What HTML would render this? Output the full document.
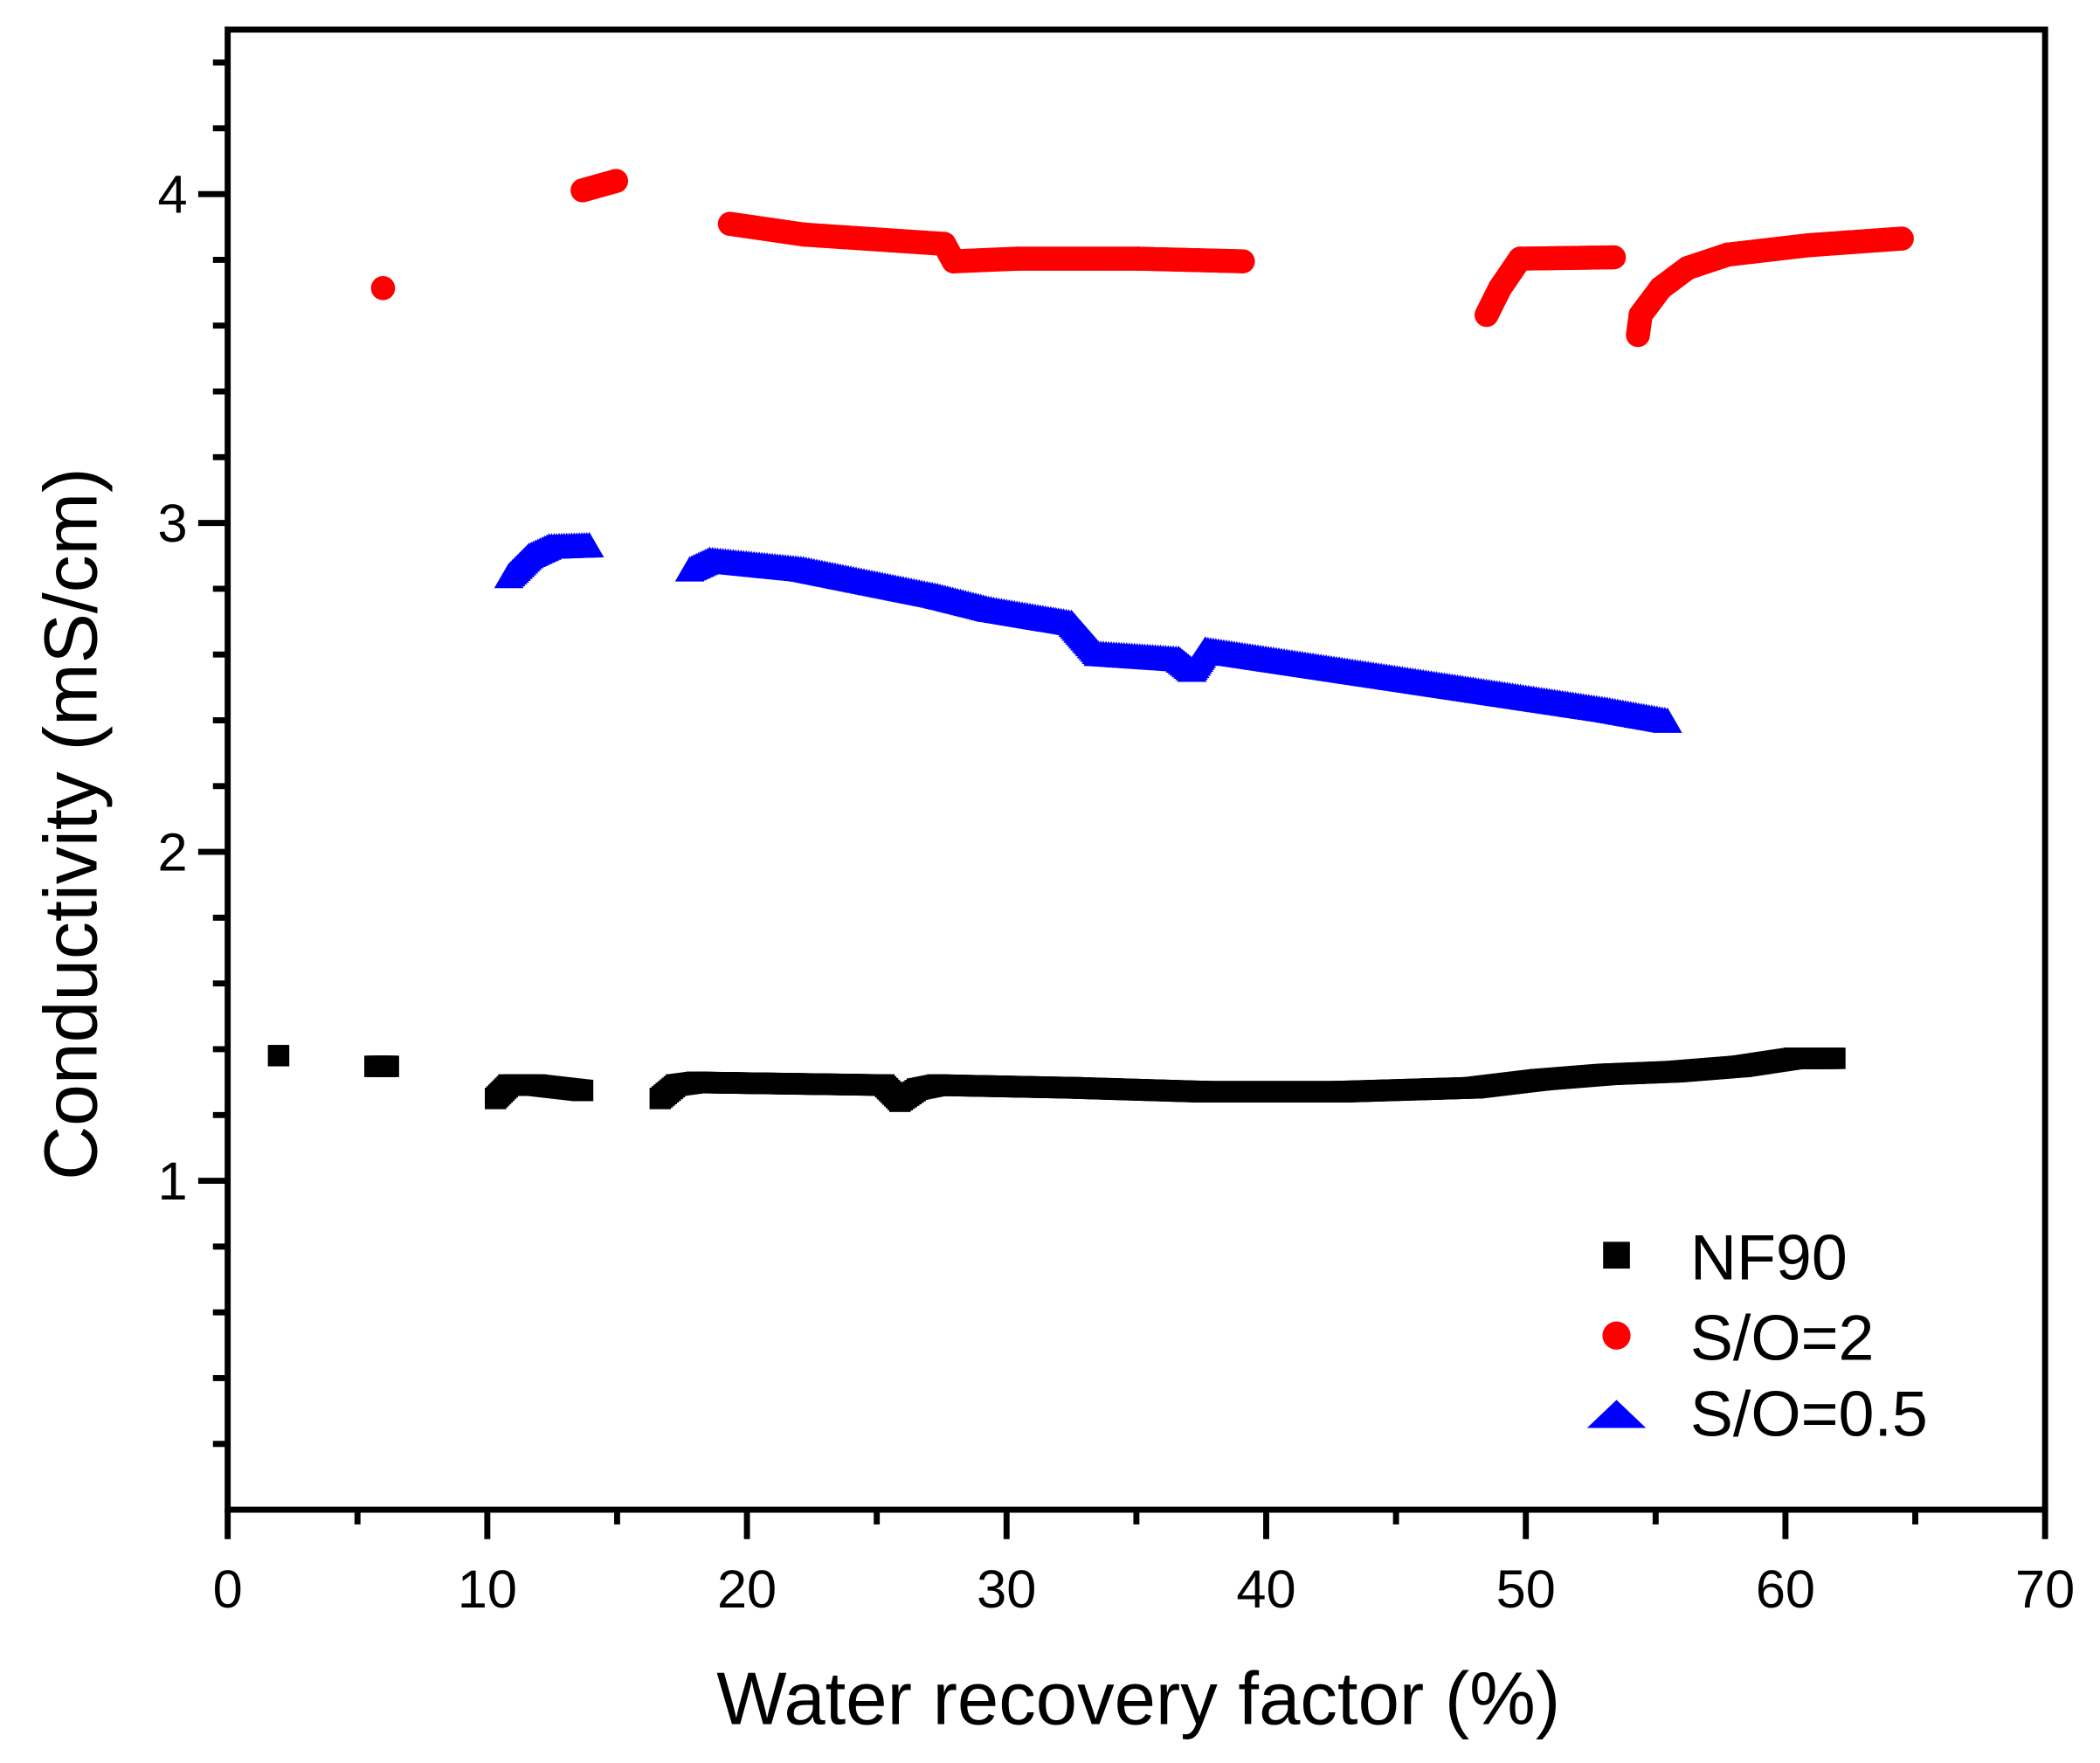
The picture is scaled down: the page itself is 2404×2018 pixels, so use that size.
<!DOCTYPE html>
<html><head><meta charset="utf-8"><style>
html,body{margin:0;padding:0;background:#fff;}
svg{display:block;}
text{font-family:"Liberation Sans",Arial,sans-serif;fill:#000;}
</style></head><body>
<svg id="s" width="2404" height="2018" viewBox="0 0 1568 1316" xmlns="http://www.w3.org/2000/svg">
<rect width="1568" height="1316" fill="#fff"/>
<g id="data"></g>
<g stroke="#000" stroke-width="4.5" fill="none" id="axes">
<rect x="170" y="22" width="1357" height="1105"/>
</g>
<g font-size="40" text-anchor="middle" id="xl"></g>
<g font-size="40" text-anchor="end" id="yl"></g>
<text x="850" y="1287" font-size="55.5" text-anchor="middle">Water recovery factor (%)</text>
<text transform="translate(72,615) rotate(-90)" font-size="56" text-anchor="middle">Conductivity (mS/cm)</text>
<rect x="1197" y="927" width="20" height="20" fill="#000"/>
<circle cx="1207" cy="997" r="10.5" fill="#f00"/>
<polygon points="1207,1045 1229,1066 1185,1066" fill="#00f"/>
<g font-size="48">
<text x="1262" y="955">NF90</text>
<text x="1262" y="1015">S/O=2</text>
<text x="1262" y="1072">S/O=0.5</text>
</g>
</svg>
<script>
var NS="http://www.w3.org/2000/svg";
function el(p,t,a){var e=document.createElementNS(NS,t);for(var k in a)e.setAttribute(k,a[k]);p.appendChild(e);return e;}
var ax=document.getElementById('axes'),xl=document.getElementById('xl'),yl=document.getElementById('yl');
function X(v){return 170+v*1357/70;}
function Y(v){return 1127-v*1105/4.5;}
for(var v=0;v<=70;v+=5){var x=X(v),maj=v%10==0;el(ax,'line',{x1:x,y1:1127,x2:x,y2:1127+(maj?22:11)});
 if(maj){var t=el(xl,'text',{x:x,y:1200});t.textContent=v;}}
for(var i=1;i<=22;i++){var v=i*0.2,y=Y(v),maj=i%5==0;el(ax,'line',{x1:170,y1:y,x2:170-(maj?22:11),y2:y});
 if(maj){var t=el(yl,'text',{x:140,y:y+14});t.textContent=v.toFixed(0);}}
var d=document.getElementById('data');
function seg(pts,kind){
 for(var i=0;i<pts.length-1;i++){var a=pts[i],b=pts[i+1];var L=Math.hypot(b[0]-a[0],b[1]-a[1]);var n=Math.max(1,Math.ceil(L/2));
  for(var j=0;j<=n;j++){var x=a[0]+(b[0]-a[0])*j/n,y=a[1]+(b[1]-a[1])*j/n;mk(x,y,kind);}}
 if(pts.length==1)mk(pts[0][0],pts[0][1],kind);
}
function mk(x,y,k){
 if(k==0)el(d,'rect',{x:x-8,y:y-8,width:16,height:16,fill:'#000'});
 else if(k==1)el(d,'circle',{cx:x,cy:y,r:9,fill:'#f00'});
 else el(d,'polygon',{points:(x)+','+(y-10)+' '+(x+11)+','+(y+9)+' '+(x-11)+','+(y+9),fill:'#00f'});
}
seg([[208,788]],0);
seg([[280,796],[290,796]],0);
seg([[370,820],[380,810],[400,810],[435,814]],0);
seg([[493,820],[505,810],[520,808],[660,810],[672,822],[685,813],[700,810],[800,812],[900,815],[1000,815],[1100,812],[1150,806],[1200,802],[1250,800],[1300,796],[1340,790],[1370,790]],0);
seg([[286,215]],1);
seg([[435,142],[460,135]],1);
seg([[545,167],[600,175],[705,182],[712,195],[760,193],[850,193],[928,195]],1);
seg([[1110,235],[1120,215],[1135,193],[1205,192]],1);
seg([[1223,250],[1225,235],[1240,215],[1260,200],[1290,190],[1350,183],[1420,178]],1);
seg([[380,430],[395,415],[410,408],[440,407]],2);
seg([[515,425],[530,418],[600,425],[700,445],[740,455],[800,465],[820,488],[880,492],[890,500],[900,485],[1000,500],[1100,515],[1200,530],[1245,538]],2);
</script>
</body></html>
